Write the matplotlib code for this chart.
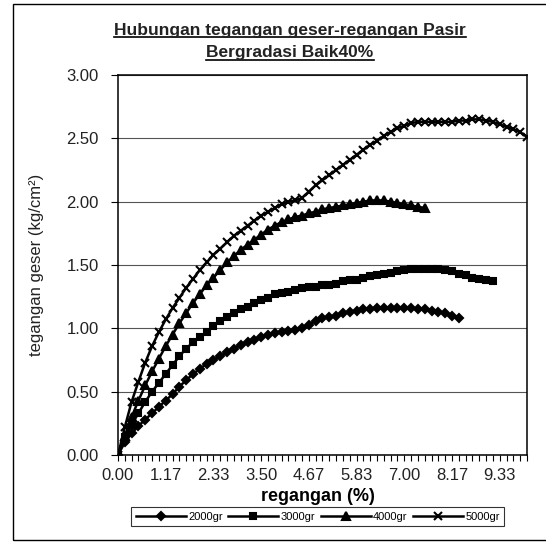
import matplotlib
matplotlib.use("Agg")
import matplotlib.pyplot as plt
from matplotlib.lines import Line2D
from matplotlib.patches import Rectangle
import numpy as np

plt.rcParams['font.family'] = ['Liberation Sans', 'DejaVu Sans']

# strain step between readings (%), 0.01 cm on a 6 cm sample
step = 1.0 / 6.0

# shear stress (kg/cm2) per reading
s2000 = [0.00, 0.10, 0.17, 0.23, 0.28, 0.33, 0.38, 0.43, 0.48, 0.54,
         0.59, 0.64, 0.68, 0.72, 0.75, 0.78, 0.81, 0.84, 0.87, 0.89,
         0.91, 0.93, 0.95, 0.96, 0.97, 0.98, 0.99, 1.00, 1.03, 1.06,
         1.08, 1.09, 1.10, 1.12, 1.13, 1.14, 1.15, 1.15, 1.16, 1.16,
         1.16, 1.16, 1.16, 1.16, 1.15, 1.15, 1.14, 1.13, 1.12, 1.10,
         1.08]
s3000 = [0.00, 0.14, 0.24, 0.33, 0.42, 0.50, 0.57, 0.64, 0.71, 0.78,
         0.84, 0.89, 0.93, 0.97, 1.02, 1.06, 1.09, 1.12, 1.15, 1.17,
         1.20, 1.22, 1.24, 1.27, 1.28, 1.29, 1.30, 1.32, 1.33, 1.33,
         1.34, 1.34, 1.35, 1.37, 1.38, 1.38, 1.40, 1.41, 1.42, 1.43,
         1.44, 1.45, 1.46, 1.47, 1.47, 1.47, 1.47, 1.47, 1.46, 1.45,
         1.43, 1.42, 1.40, 1.39, 1.38, 1.37]
s4000 = [0.00, 0.15, 0.30, 0.43, 0.55, 0.66, 0.76, 0.86, 0.95, 1.04,
         1.12, 1.20, 1.27, 1.34, 1.40, 1.46, 1.52, 1.57, 1.62, 1.66,
         1.70, 1.74, 1.78, 1.81, 1.84, 1.86, 1.88, 1.89, 1.91, 1.92,
         1.94, 1.95, 1.96, 1.97, 1.98, 1.99, 2.00, 2.01, 2.01, 2.01,
         2.00, 1.99, 1.98, 1.97, 1.96, 1.95]
s5000 = [0.00, 0.22, 0.42, 0.58, 0.73, 0.86, 0.97, 1.07, 1.16, 1.24,
         1.32, 1.39, 1.46, 1.52, 1.58, 1.63, 1.68, 1.73, 1.77, 1.81,
         1.85, 1.89, 1.92, 1.95, 1.98, 2.00, 2.01, 2.03, 2.08, 2.13,
         2.17, 2.21, 2.25, 2.29, 2.33, 2.37, 2.41, 2.45, 2.48, 2.52,
         2.55, 2.58, 2.60, 2.62, 2.63, 2.63, 2.63, 2.63, 2.63, 2.63,
         2.64, 2.64, 2.65, 2.65, 2.64, 2.63, 2.61, 2.59, 2.57, 2.55,
         2.51]

series = [("2000gr", s2000, "D", 4.5),
          ("3000gr", s3000, "s", 4.5),
          ("4000gr", s4000, "^", 5.5),
          ("5000gr", s5000, "x", 6.0)]

n_max = max(len(s) for _, s, _, _ in series)
label_every = 7

fig = plt.figure(figsize=(5.46, 5.44), dpi=100)
ax = fig.add_axes([0.2161, 0.1636, 0.9652 - 0.2161, 0.8621 - 0.1636])

for name, vals, mk, ms in series:
    x = np.arange(len(vals)) * step
    ax.plot(x, vals, color="black", lw=1.8, marker=mk, ms=ms, mew=1.5,
            label=name)

ax.set_xlim(0, (n_max - 1) * step)
ax.set_ylim(0, 3.0)
yt = np.arange(0, 3.01, 0.5)
ax.set_yticks(yt)
ax.set_yticklabels(["%.2f" % v for v in yt], fontsize=12, color="#222222")
xt = np.arange(0, n_max, label_every) * step
ax.set_xticks(xt)
ax.set_xticklabels(["%.2f" % v for v in xt], fontsize=12, color="#222222")
ax.set_xticks(np.arange(n_max) * step, minor=True)
ax.tick_params(axis="x", which="both", direction="out", length=4, width=0.8,
               pad=5)
ax.tick_params(axis="y", direction="out", length=5, width=0.8, pad=9)
ax.grid(axis="y", color="#555555", lw=0.8)
for sp in ax.spines.values():
    sp.set_linewidth(1.1)

ax.set_xlabel("regangan (%)", fontsize=13, fontweight="bold")
ax.xaxis.set_label_coords(0.49, -0.088)
ax.set_ylabel("tegangan geser (kg/cm²)", fontsize=12, color="#222222")
ax.yaxis.set_label_coords(-0.18, 0.5)

t1 = fig.text(0.531, 1 - 30 / 544, "Hubungan tegangan geser-regangan Pasir",
              ha="center", va="center", fontsize=12.5, fontweight="bold",
              color="#222222")
t2 = fig.text(0.531, 1 - 53 / 544, "Bergradasi Baik40%",
              ha="center", va="center", fontsize=12.5, fontweight="bold",
              color="#222222")

leg = fig.legend(loc="center", bbox_to_anchor=(0.582, 0.05), ncol=4,
                 fontsize=8, handlelength=4.5, columnspacing=0.5,
                 handletextpad=0.2, borderpad=0.4, fancybox=False,
                 edgecolor="black")
leg.get_frame().set_linewidth(0.8)

# chart area border
fig.patches.append(Rectangle((13 / 546, 4 / 544), 1.1, 536 / 544,
                             transform=fig.transFigure, fill=False,
                             lw=1.0, ec="black"))

# underline the title lines
fig.canvas.draw()
r = fig.canvas.get_renderer()
inv = fig.transFigure.inverted()
for t in (t1, t2):
    bb = t.get_window_extent(renderer=r)
    (x0, y0), (x1, _) = inv.transform([(bb.x0, bb.y0 + 1), (bb.x1, bb.y0 + 1)])
    fig.add_artist(Line2D([x0, x1], [y0, y0], transform=fig.transFigure,
                          color="black", lw=1.2))

fig.savefig("out.png", dpi=100)
